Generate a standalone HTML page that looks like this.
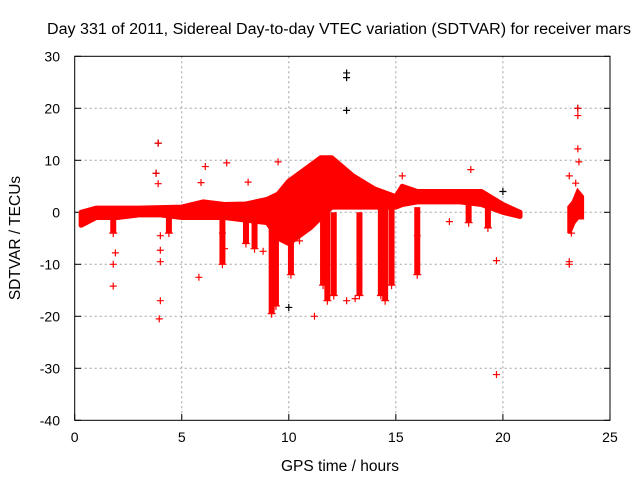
<!DOCTYPE html>
<html><head><meta charset="utf-8"><style>
body{margin:0;background:#fff;font-family:"Liberation Sans",sans-serif}
svg text{font-family:"Liberation Sans",sans-serif;font-size:14px;fill:#000}
</style></head><body>
<svg id="chart" width="640" height="480" xmlns="http://www.w3.org/2000/svg">
<rect width="640" height="480" fill="#fff"/>
<text x="47" y="34" textLength="584" lengthAdjust="spacingAndGlyphs" style="font-size:15.5px">Day 331 of 2011, Sidereal Day-to-day VTEC variation (SDTVAR) for receiver mars</text>
<text transform="translate(20,238) rotate(-90)" text-anchor="middle" style="font-size:15.5px">SDTVAR / TECUs</text>
<text x="340" y="471" text-anchor="middle" style="font-size:15.5px">GPS time / hours</text>
<g id="grid"></g>
<g id="marks"></g>
<rect x="74.7" y="56.3" width="535.3" height="364" fill="none" stroke="#000" stroke-width="1"/>
</svg>
<script>
const xTicks=[0,5,10,15,20,25];
const yTicks=[30,20,10,0,-10,-20,-30,-40];
const bandHours=[0.3,1,2,3,4,5,6,7,8,9,9.5,10,11,11.5,12,13,14,15,15.3,16,17,18,19,20,20.8];
const bandUpper=[0,0.8,0.8,0.8,0.9,1,2,1.5,1.6,2.5,3.5,6,9,10.5,10.5,7,4.5,3,5,4,4,4,4,1.5,0];
const bandLower=[-2.5,-1,-1,-0.5,-0.5,-1,-1,-1,-1.5,-2,-5,-6,-3,-1,1,1,1,1,1.5,2,2,2,1.5,0,-0.8];
const band2Hours=[23.1,23.3,23.5,23.7];
const band2Upper=[1,2,4,3];
const band2Lower=[-4,-2,-1,-1];
const dipHours=[1.8,4.4,6.9,8.0,8.4,9.2,9.4,10.1,11.6,11.8,12.1,13.3,14.3,14.5,14.8,16.0,18.4,19.3];
const dipTops=[-1,-0.5,-1,-1,-1,-3,-3,-3,0,0,0,0,1,1,1,1,2,1.5];
const dipBottoms=[-4,-4,-10,-6,-7,-19.5,-18,-12,-14,-17,-16,-16,-16,-17,-14,-12,-2,-3];
const redX=[1.8,1.8,1.9,3.9,3.8,3.9,4.0,4.0,4.0,4.0,3.95,6.1,5.9,7.1,6.9,7.0,8.1,9.5,11.2,12.7,13.1,15.3,18.5,19.7,19.7,23.1,23.1,23.1,23.5,23.5,23.5,23.55,23.4,23.2,17.5,16.0,5.8,10.5,8.8];
const redY=[-14.2,-10,-7.8,13.3,7.5,5.5,-4.5,-7.3,-9.5,-17,-20.5,8.8,5.7,9.5,-4,-7,5.8,9.7,-20,-17,-16.6,7,8.2,-9.3,-31.2,7,-9.5,-10,20,18.6,12.2,9.7,5.6,-4,-1.8,-4.5,-12.5,-5.5,-7.5,-3];
const blackX=[12.7,12.7,12.7,3.8,3.9,20.0,23.5,10.0];
const blackY=[26.8,25.9,19.6,7.5,13.3,4,20,-18.3];

const NS="http://www.w3.org/2000/svg";
const X0=74.7,PXH=21.41,Y0=212.3,PXU=5.2;
function sx(h){return X0+h*PXH;}
function sy(v){return Y0-v*PXU;}
function mk(tag,attrs,parent){const e=document.createElementNS(NS,tag);for(const k in attrs)e.setAttribute(k,attrs[k]);parent.appendChild(e);return e;}
const grid=document.getElementById('grid'),marks=document.getElementById('marks');
xTicks.forEach(t=>{
  if(t>0&&t<25){const l=mk('line',{x1:sx(t),x2:sx(t),y1:56.3,y2:420.3,stroke:'#a0a0a0','stroke-dasharray':'2,3'},grid);
  }
  const tk=mk('line',{x1:sx(t),x2:sx(t),y1:420.3,y2:414,stroke:'#000'},grid);
  
  const tx=mk('text',{x:sx(t),y:442,'text-anchor':'middle'},grid);tx.textContent=t;
  
});
yTicks.forEach(t=>{
  if(t<30&&t>-40){const l=mk('line',{x1:74.7,x2:610,y1:sy(t),y2:sy(t),stroke:'#a0a0a0','stroke-dasharray':'2,3'},grid);
  }
  const tk=mk('line',{x1:74.7,x2:81,y1:sy(t),y2:sy(t),stroke:'#000'},grid);
  
  const tk2=mk('line',{x1:610,x2:604,y1:sy(t),y2:sy(t),stroke:'#000'},grid);
  
  const tx=mk('text',{x:60,y:sy(t)+5,'text-anchor':'end'},grid);tx.textContent=t;
  
});
function bandPath(hs,up,lo){let d='';hs.forEach((h,i)=>{d+=(i?'L':'M')+sx(h)+','+sy(up[i]);});
  for(let i=hs.length-1;i>=0;i--)d+='L'+sx(hs[i])+','+sy(lo[i]);return d+'Z';}
const b1=mk('path',{d:bandPath(bandHours,bandUpper,bandLower),fill:'#f00',stroke:'#f00','stroke-width':5,'stroke-linejoin':'round'},marks);

const b2=mk('path',{d:bandPath(band2Hours,band2Upper,band2Lower),fill:'#f00',stroke:'#f00','stroke-width':4},marks);

dipHours.forEach((h,i)=>{
  const l=mk('line',{x1:sx(h),x2:sx(h),y1:sy(dipTops[i]),y2:sy(dipBottoms[i]),stroke:'#f00','stroke-width':6},marks);
  
  const c=mk('path',{d:`M${sx(h)-4},${sy(dipBottoms[i])}h8M${sx(h)},${sy(dipBottoms[i])-4}v8`,stroke:'#f00','stroke-width':1.2},marks);
  
});
function cross(h,v,col,name){const c=mk('path',{d:`M${sx(h)-3.5},${sy(v)}h7M${sx(h)},${sy(v)-3.5}v7`,stroke:col,'stroke-width':1.2},marks);
  }
blackX.forEach((h,i)=>cross(h,blackY[i],'#000','black-point'));
redX.forEach((h,i)=>cross(h,redY[i],'#f00','red-point'));
</script>
</body></html>
